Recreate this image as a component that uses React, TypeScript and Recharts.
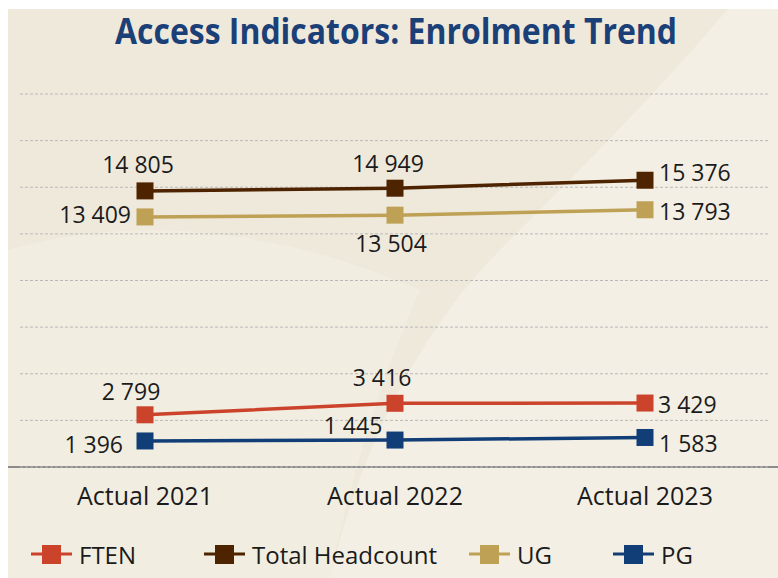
import React from 'react';
import { LineChart, Line, XAxis, YAxis, CartesianGrid, LabelList } from 'recharts';

const categories = ['Actual 2021', 'Actual 2022', 'Actual 2023'];
const ftenValues = [2799, 3416, 3429];
const totalHeadcountValues = [14805, 14949, 15376];
const ugValues = [13409, 13504, 13793];
const pgValues = [1396, 1445, 1583];
const yTicks = [0, 2500, 5000, 7500, 10000, 12500, 15000, 17500, 20000];

const seriesNames = { ften: 'FTEN', total: 'Total Headcount', ug: 'UG', pg: 'PG' };

const data = categories.map((name, i) => ({
  name,
  ften: ftenValues[i],
  total: totalHeadcountValues[i],
  ug: ugValues[i],
  pg: pgValues[i],
}));

const COLORS: Record<string, string> = {
  ften: '#cc432b',
  total: '#4e2300',
  ug: '#bea155',
  pg: '#123e78',
};

// label placement per point: [dx, dy(baseline), anchor]
const PLACEMENT: Record<string, [number, number, string][]> = {
  total: [[-7, -18, 'middle'], [-7, -16, 'middle'], [14, 1, 'start']],
  ug: [[-14, 6, 'end'], [-4, 37, 'middle'], [14, 10, 'start']],
  ften: [[-14, -15, 'middle'], [-13, -17, 'middle'], [13, 10, 'start']],
  pg: [[-22, 12, 'end'], [-42, -6, 'middle'], [14, 15, 'start']],
};

const FONT = '"Open Sans", "Noto Sans", sans-serif';

const fmt = (v: number) => String(v).replace(/\B(?=(\d{3})+(?!\d))/g, ' ');

const makeLabel = (key: string) => (props: any) => {
  const { value, index } = props;
  const px = props.x ?? props.viewBox?.x;
  const py = props.y ?? props.viewBox?.y;
  const [dx, dy, anchor] = PLACEMENT[key][index];
  return (
    <text
      key={`lbl-${key}-${index}`}
      x={px + dx}
      y={py + dy}
      textAnchor={anchor as any}
      fontSize={23}
      fontFamily={FONT}
      fill="#1b1b1b"
    >
      {fmt(value)}
    </text>
  );
};

const makeDot = (key: string) => (props: any) => {
  const { cx, cy, index } = props;
  const s = 17;
  return (
    <rect
      key={`dot-${key}-${index}`}
      x={cx - s / 2}
      y={cy - s / 2}
      width={s}
      height={s}
      fill={COLORS[key]}
    />
  );
};

const XTick = (props: any) => {
  const { x, y, payload } = props;
  return (
    <text x={x} y={y + 38} textAnchor="middle" fontSize={25} fontFamily={FONT} fill="#1b1b1b">
      {payload.value}
    </text>
  );
};

const legendItems = [
  { key: 'ften', x: 31 },
  { key: 'total', x: 204 },
  { key: 'ug', x: 469 },
  { key: 'pg', x: 613 },
];

export default function App() {
  return (
    <div style={{ position: 'absolute', left: 0, top: 0, width: 778, height: 578, background: '#ffffff', overflow: 'hidden' }}>
      <svg width={778} height={578} style={{ position: 'absolute', left: 0, top: 0 }}>
        <rect x={8} y={9} width={770} height={569} fill="#efe9dc" />
        <path d="M 728 9 L 778 9 L 778 578 L 330 578 C 360 450 420 330 500 250 C 580 170 660 90 728 9 Z" fill="#f3efe4" />
        <path d="M 8 250 C 130 215 270 225 420 290 C 380 380 350 480 330 578 L 8 578 Z" fill="#f2eee2" opacity={0.7} />
        <line x1={8} x2={778} y1={467} y2={467} stroke="#8c8c8c" strokeWidth={2} />
        <text
          x={115}
          y={44}
          fontSize={36}
          fontWeight={700}
          fontFamily={FONT}
          fill="#1a4077"
          textLength={562}
          lengthAdjust="spacingAndGlyphs"
        >
          Access Indicators: Enrolment Trend
        </text>
      </svg>
      <div style={{ position: 'absolute', left: 0, top: 0 }}>
        <LineChart
          width={778}
          height={578}
          data={data}
          margin={{ top: 94, right: 8, left: 20, bottom: 81 }}
        >
          <CartesianGrid horizontal vertical={false} stroke="#b9b9b9" strokeDasharray="3 2" />
          <XAxis
            dataKey="name"
            scale="band"
            axisLine={false}
            tickLine={false}
            tickSize={0}
            tickMargin={0}
            height={30}
            tick={<XTick />}
            interval={0}
          />
          <YAxis hide domain={[0, 20000]} ticks={yTicks} />
          {(['ften', 'total', 'ug', 'pg'] as const).map((k) => (
            <Line
              key={k}
              type="linear"
              dataKey={k}
              name={seriesNames[k]}
              stroke={COLORS[k]}
              strokeWidth={3.5}
              dot={makeDot(k)}
              activeDot={false}
              isAnimationActive={false}
            >
              <LabelList dataKey={k} content={makeLabel(k)} />
            </Line>
          ))}
        </LineChart>
      </div>
      <svg width={778} height={578} style={{ position: 'absolute', left: 0, top: 0, pointerEvents: 'none' }}>
        {legendItems.map((it) => (
          <g key={it.key}>
            <line x1={it.x} x2={it.x + 41} y1={554} y2={554} stroke={COLORS[it.key]} strokeWidth={3} />
            <rect x={it.x + 11} y={545} width={19} height={19} fill={COLORS[it.key]} />
            <text x={it.x + 48} y={564} fontSize={24} fontFamily={FONT} fill="#1b1b1b">
              {seriesNames[it.key as keyof typeof seriesNames]}
            </text>
          </g>
        ))}
      </svg>
    </div>
  );
}
